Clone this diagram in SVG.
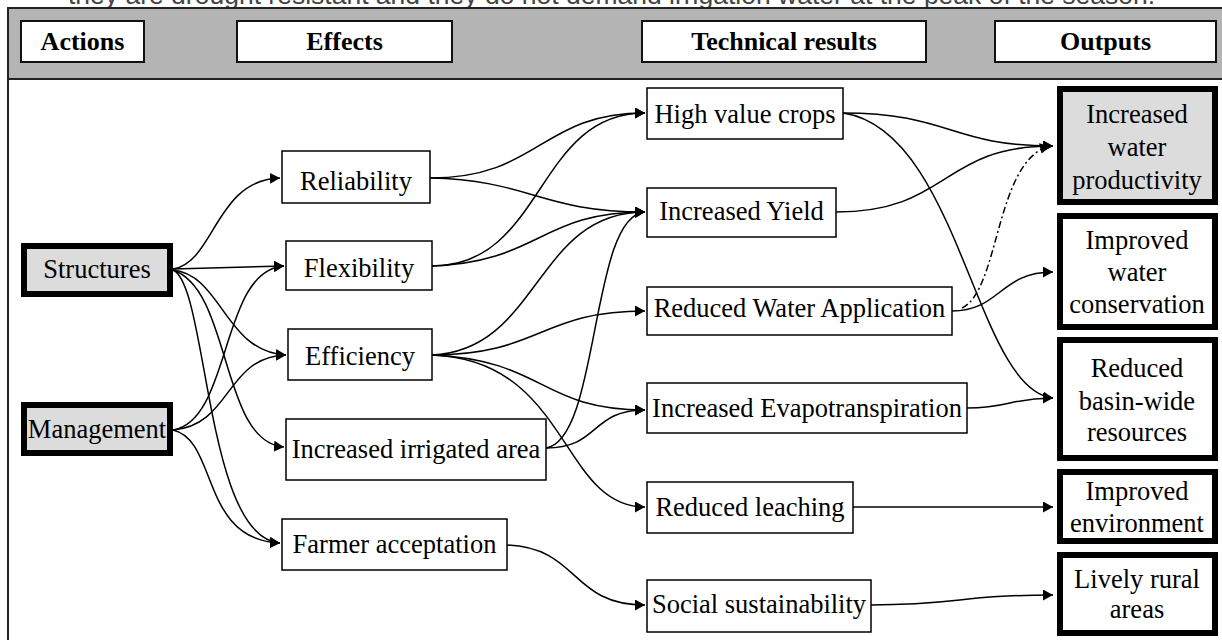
<svg xmlns="http://www.w3.org/2000/svg" width="1222" height="640" viewBox="0 0 1222 640">
<style>
.t{font-family:"Liberation Serif","Times New Roman",serif;font-size:26.5px;fill:#000;text-anchor:middle}
.h{font-family:"Liberation Serif","Times New Roman",serif;font-size:26px;font-weight:bold;fill:#000;text-anchor:middle}
.box{fill:#fff;stroke:#000;stroke-width:1.5}
.hbox{fill:#fff;stroke:#111;stroke-width:2}
.thick{fill:#fff;stroke:#000;stroke-width:6}
.grey{fill:#dcdcdc}
.c{fill:none;stroke:#000;stroke-width:1.5;marker-end:url(#ah)}
.dash{stroke-dasharray:7,3,2,3}
</style>
<defs>
<marker id="ah" markerUnits="userSpaceOnUse" markerWidth="11" markerHeight="11" refX="10" refY="5.5" orient="auto">
<path d="M0,0 L10,5.5 L0,11 z" fill="#000"/>
</marker>
</defs>
<rect x="0" y="0" width="1222" height="640" fill="#fff"/>
<text x="68" y="4" style="font-family:'Liberation Sans',Arial,sans-serif;font-size:26.5px;fill:#444">they are drought resistant and they do not demand irrigation water at the peak of the season.</text>
<g id="frame">
<rect x="8" y="8" width="1230" height="660" fill="#fff" stroke="#222" stroke-width="2"/>
<rect x="9" y="9" width="1230" height="70" fill="#b4b4b4"/>
<line x1="8" y1="79" x2="1222" y2="79" stroke="#222" stroke-width="2"/>
</g>
<g id="header-actions"><rect class="hbox" x="21" y="21" width="123" height="41"/><text class="h" x="82.5" y="50">Actions</text></g>
<g id="header-effects"><rect class="hbox" x="237" y="21" width="215" height="41"/><text class="h" x="344.5" y="50">Effects</text></g>
<g id="header-technical"><rect class="hbox" x="642" y="21" width="284" height="41"/><text class="h" x="784" y="50">Technical results</text></g>
<g id="header-outputs"><rect class="hbox" x="995" y="21" width="221" height="41"/><text class="h" x="1105.5" y="50">Outputs</text></g>

<g id="connectors">
<path class="c" d="M173,269 C215,262 215,180 280,178"/>
<path class="c" d="M173,269 L284,266"/>
<path class="c" d="M173,270 C222,275 225,352 286,355"/>
<path class="c" d="M173,270 C232,290 220,442 284,447"/>
<path class="c" d="M173,270 C208,285 205,538 280,543"/>
<path class="c" d="M173,430 C232,420 220,270 284,266"/>
<path class="c" d="M173,430 C232,425 225,357 286,355"/>
<path class="c" d="M173,430 C218,440 200,540 280,543"/>
<path class="c" d="M430,178 C540,178 540,113 645,113"/>
<path class="c" d="M430,178 C530,180 540,212 645,212"/>
<path class="c" d="M432,266 C545,266 535,113 645,113"/>
<path class="c" d="M432,266 C540,262 540,212 645,212"/>
<path class="c" d="M432,355 C540,350 535,212 645,212"/>
<path class="c" d="M432,355 C540,355 540,311 645,311"/>
<path class="c" d="M432,355 C545,360 540,410 645,410"/>
<path class="c" d="M432,355 C570,360 560,507 645,507"/>
<path class="c" d="M546,448 C600,440 590,215 645,212"/>
<path class="c" d="M546,448 C600,448 590,410 645,410"/>
<path class="c" d="M507,545 C580,548 570,605 645,605"/>
<path class="c" d="M843,113 C950,113 950,146 1053,146"/>
<path class="c" d="M843,113 C960,130 975,390 1053,398"/>
<path class="c" d="M836,212 C950,212 940,146 1053,146"/>
<path class="c" d="M952,311 C1000,311 1000,272 1053,272"/>
<path class="c dash" d="M962,308 C1000,290 995,160 1050,146"/>
<path class="c" d="M967,408 C1010,408 1010,398 1053,398"/>
<path class="c" d="M853,507 L1053,507"/>
<path class="c" d="M871,605 C960,605 960,595 1053,595"/>
</g>

<g id="structures"><rect class="thick grey" x="24" y="246" width="146" height="48"/><text class="t" x="97" y="278">Structures</text></g>
<g id="management"><rect class="thick grey" x="24" y="405" width="146" height="48"/><text class="t" x="97" y="438">Management</text></g>

<g id="reliability"><rect class="box" x="282" y="151" width="148" height="52"/><text class="t" x="356" y="190">Reliability</text></g>
<g id="flexibility"><rect class="box" x="286" y="241" width="146" height="49"/><text class="t" x="359" y="277">Flexibility</text></g>
<g id="efficiency"><rect class="box" x="288" y="329" width="144" height="51"/><text class="t" x="360" y="365">Efficiency</text></g>
<g id="irrigated-area"><rect class="box" x="286" y="419" width="260" height="61"/><text class="t" x="416" y="458">Increased irrigated area</text></g>
<g id="farmer-acceptation"><rect class="box" x="282" y="519" width="225" height="51"/><text class="t" x="394.5" y="553">Farmer acceptation</text></g>

<g id="high-value-crops"><rect class="box" x="647" y="88" width="196" height="51"/><text class="t" x="745" y="123">High value crops</text></g>
<g id="increased-yield"><rect class="box" x="647" y="188" width="189" height="49"/><text class="t" x="741.5" y="220">Increased Yield</text></g>
<g id="reduced-water-application"><rect class="box" x="647" y="287" width="305" height="48"/><text class="t" x="799.5" y="317">Reduced Water Application</text></g>
<g id="increased-evapotranspiration"><rect class="box" x="647" y="383" width="320" height="50"/><text class="t" x="807" y="417">Increased Evapotranspiration</text></g>
<g id="reduced-leaching"><rect class="box" x="647" y="482" width="206" height="51"/><text class="t" x="750" y="516">Reduced leaching</text></g>
<g id="social-sustainability"><rect class="box" x="647" y="580" width="224" height="52"/><text class="t" x="759" y="613">Social sustainability</text></g>

<g id="water-productivity"><rect class="thick grey" x="1060" y="89" width="155" height="113"/>
<text class="t" x="1137" y="123">Increased</text><text class="t" x="1137" y="156">water</text><text class="t" x="1137" y="189">productivity</text></g>
<g id="water-conservation"><rect class="thick" x="1060" y="216" width="155" height="111"/>
<text class="t" x="1137" y="249">Improved</text><text class="t" x="1137" y="281">water</text><text class="t" x="1137" y="313">conservation</text></g>
<g id="basin-resources"><rect class="thick" x="1060" y="340" width="155" height="118"/>
<text class="t" x="1137" y="377">Reduced</text><text class="t" x="1137" y="410">basin-wide</text><text class="t" x="1137" y="441">resources</text></g>
<g id="environment"><rect class="thick" x="1060" y="472" width="155" height="69"/>
<text class="t" x="1137" y="500">Improved</text><text class="t" x="1137" y="532">environment</text></g>
<g id="rural-areas"><rect class="thick" x="1060" y="555" width="155" height="78"/>
<text class="t" x="1137" y="588">Lively rural</text><text class="t" x="1137" y="618">areas</text></g>
</svg>
